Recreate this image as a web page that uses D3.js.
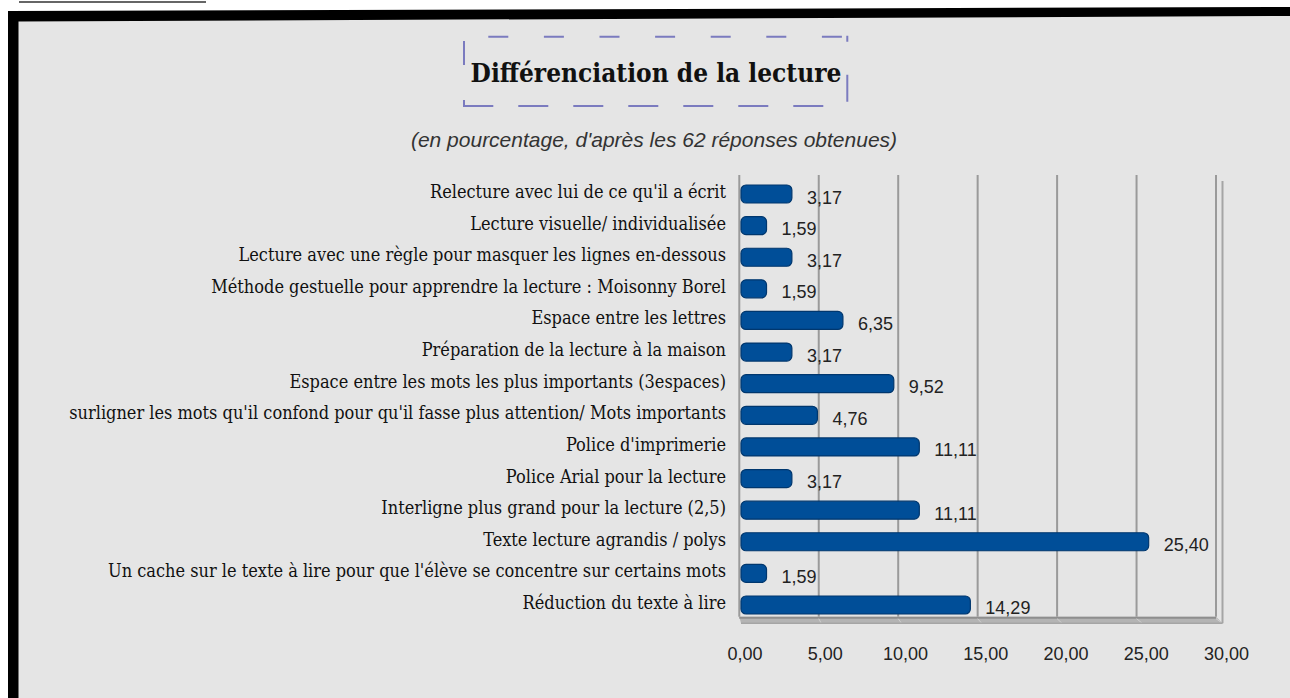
<!DOCTYPE html>
<html><head><meta charset="utf-8">
<script src="https://cdn.jsdelivr.net/npm/d3@7"></script>
<style>html,body{margin:0;padding:0;background:#fff;overflow:hidden}</style>
</head><body>
<svg id="c" width="1290" height="698"></svg>
<script>
const categories = [
  "Relecture avec lui de ce qu'il a écrit",
  "Lecture visuelle/ individualisée",
  "Lecture avec une règle pour masquer les lignes en-dessous",
  "Méthode gestuelle pour apprendre la lecture : Moisonny Borel",
  "Espace entre les lettres",
  "Préparation de la lecture à la maison",
  "Espace entre les mots les plus importants (3espaces)",
  "surligner les mots qu'il confond pour qu'il fasse plus attention/ Mots importants",
  "Police d'imprimerie",
  "Police Arial pour la lecture",
  "Interligne plus grand pour la lecture (2,5)",
  "Texte lecture agrandis / polys",
  "Un cache sur le texte à lire pour que l'élève se concentre sur certains mots",
  "Réduction du texte à lire"
];
const values = [3.17, 1.59, 3.17, 1.59, 6.35, 3.17, 9.52, 4.76, 11.11, 3.17, 11.11, 25.40, 1.59, 14.29];
const tickValues = [0, 5, 10, 15, 20, 25, 30];
const tickLabels = ["0,00", "5,00", "10,00", "15,00", "20,00", "25,00", "30,00"];
const titleText = "Différenciation de la lecture";
const subtitleText = "(en pourcentage, d'après les 62 réponses obtenues)";

const svg = d3.select("#c");
const W = 1290, H = 698;

// frame
svg.append("line").attr("x1", 19).attr("x2", 206).attr("y1", 2).attr("y2", 2)
  .attr("stroke", "#333").attr("stroke-width", 1.5);
svg.append("polygon").attr("points", `8,11 1290,7 1290,${H} 8,${H}`).attr("fill", "#000");
svg.append("polygon").attr("points", `18.5,21.5 1290,16 1290,${H} 18.5,${H}`).attr("fill", "#e5e5e5");

// title with dashed box
const bx0 = 464, bx1 = 847.3, by0 = 36.7, by1 = 106;
const dashCol = "#7b7bbf";
const side = (x1, y1, x2, y2, da, off) => svg.append("line")
  .attr("x1", x1).attr("y1", y1).attr("x2", x2).attr("y2", y2)
  .attr("stroke", dashCol).attr("stroke-width", 2)
  .attr("stroke-dasharray", da).attr("stroke-dashoffset", off);
side(bx0, by0, bx1, by0, "20,35.6", 31.3);
side(bx1, by0 - 1, bx1, by1, "6,33,27,100", 0);
side(bx1, by1, bx0, by1, "30,25", 31);
side(bx0, by1 + 1, bx0, by0, "7,35,24,100", 0);

svg.append("text").attr("x", 656).attr("y", 81.7).attr("text-anchor", "middle")
  .attr("font-family", "DejaVu Serif Condensed, DejaVu Serif").attr("font-stretch", "condensed")
  .attr("font-weight", "bold").attr("font-size", 26)
  .attr("fill", "#111").text(titleText);
svg.append("text").attr("x", 654).attr("y", 146.5).attr("text-anchor", "middle")
  .attr("font-family", "Liberation Sans").attr("font-style", "italic").attr("font-size", 21)
  .attr("fill", "#333").text(subtitleText);

// scales: back wall (gridlines) and front plane (bars, labels)
const xb = d3.scaleLinear().domain([0, 30]).range([739.3, 1216]);
const xf = d3.scaleLinear().domain([0, 30]).range([741, 1222.5]);
const y = d3.scaleBand().domain(categories).range([178.2, 620.8])
  .paddingInner(0.43).paddingOuter(0.215);
const gTop = 175, floorBack = 616.7, floorFront = 623.3;

// floor
svg.append("polygon")
  .attr("points", `${xb(0)},${floorBack} ${xb(30)},${floorBack} ${xf(30)},${floorFront} ${xf(0)},${floorFront}`)
  .attr("fill", "#b4b4b4");
svg.append("line").attr("x1", xb(0)).attr("x2", xb(30)).attr("y1", floorBack + 1).attr("y2", floorBack + 1)
  .attr("stroke", "#8e8e8e").attr("stroke-width", 2);
svg.selectAll(".fd").data(tickValues.slice(1)).join("line")
  .attr("x1", d => xb(d)).attr("y1", floorBack + 2).attr("x2", d => xf(d)).attr("y2", floorFront)
  .attr("stroke", "#cfcfcf").attr("stroke-width", 1);

// gridlines
svg.selectAll(".grid").data(tickValues).join("line")
  .attr("x1", d => xb(d)).attr("x2", d => xb(d)).attr("y1", gTop).attr("y2", floorBack)
  .attr("stroke", "#9a9a9a").attr("stroke-width", 2);
// right wall front edge
svg.append("line").attr("x1", xf(30)).attr("x2", xf(30)).attr("y1", gTop + 6).attr("y2", floorFront)
  .attr("stroke", "#a5a5a5").attr("stroke-width", 2);
svg.append("line").attr("x1", xf(0)).attr("x2", xf(30)).attr("y1", floorFront).attr("y2", floorFront)
  .attr("stroke", "#a5a5a5").attr("stroke-width", 1.5);

// bars
svg.selectAll(".bar").data(values).join("rect")
  .attr("x", xf(0))
  .attr("y", (d, i) => y(categories[i]))
  .attr("width", d => xf(d) - xf(0))
  .attr("height", y.bandwidth())
  .attr("rx", 5).attr("ry", 5)
  .attr("fill", "#004e98").attr("stroke", "#00376e").attr("stroke-width", 1.2);

// value labels
const fmt = d => d3.format(".2f")(d).replace(".", ",");
svg.selectAll(".vl").data(values).join("text")
  .attr("x", d => xf(d) + 15)
  .attr("y", (d, i) => y(categories[i]) + y.bandwidth() / 2 + 9.5)
  .attr("font-family", "Liberation Sans").attr("font-size", 18).attr("fill", "#222")
  .text(d => fmt(d));

// category labels
svg.selectAll(".cl").data(categories).join("text")
  .attr("x", 726)
  .attr("y", d => y(d) + y.bandwidth() / 2 + 4)
  .attr("text-anchor", "end")
  .attr("font-family", "DejaVu Serif Condensed, DejaVu Serif").attr("font-stretch", "condensed")
  .attr("font-size", 18)
  .attr("fill", "#111").text(d => d);

// tick labels
svg.selectAll(".tl").data(tickValues).join("text")
  .attr("x", d => xf(d) + 4).attr("y", 660)
  .attr("text-anchor", "middle")
  .attr("font-family", "Liberation Sans").attr("font-size", 18).attr("fill", "#222")
  .text((d, i) => tickLabels[i]);
</script>
</body></html>
